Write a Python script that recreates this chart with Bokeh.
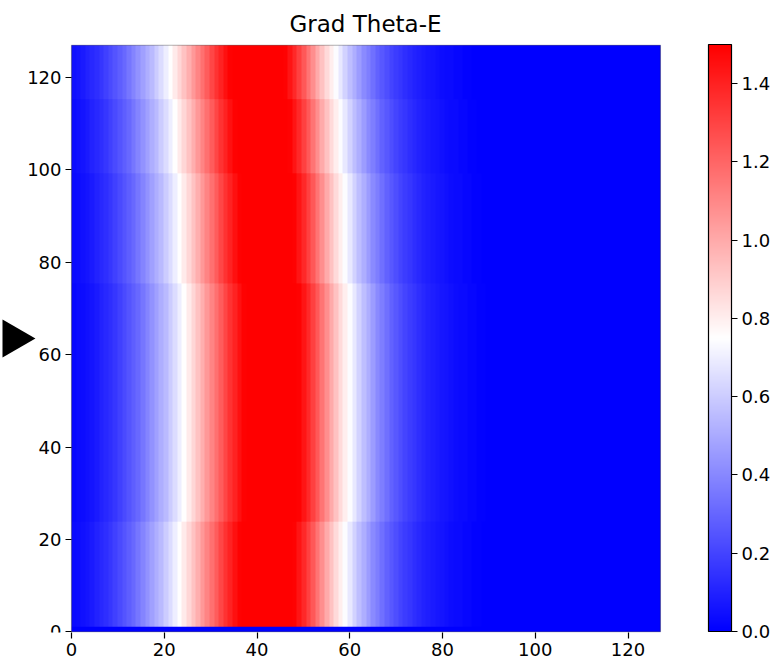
import numpy as np
from bokeh.plotting import figure
from bokeh.models import (LinearColorMapper, ColorBar, FixedTicker, PrintfTickFormatter,
                          Range1d, BoxAnnotation)
from bokeh.embed import file_html
from bokeh.resources import INLINE

# ---- data ----
title_text = "Grad Theta-E"
n_cols = 128
n_rows = 128
# field value along x (columns 0..127) for the middle rows
profile = [
    0.02, 0.03, 0.04, 0.05, 0.06, 0.08, 0.10, 0.12, 0.14, 0.16,
    0.19, 0.22, 0.25, 0.28, 0.31, 0.35, 0.39, 0.43, 0.47, 0.51,
    0.55, 0.60, 0.65, 0.70, 0.75, 0.81, 0.87, 0.93, 0.99, 1.05,
    1.11, 1.17, 1.23, 1.29, 1.35, 1.40, 1.45, 1.49, 1.53, 1.57,
    1.60, 1.62, 1.63, 1.63, 1.62, 1.60, 1.58, 1.55, 1.52, 1.49,
    1.44, 1.38, 1.31, 1.24, 1.16, 1.08, 1.00, 0.93, 0.86, 0.80,
    0.74, 0.68, 0.62, 0.56, 0.51, 0.46, 0.41, 0.37, 0.33, 0.29,
    0.26, 0.23, 0.20, 0.18, 0.16, 0.14, 0.12, 0.10, 0.09, 0.08,
    0.07, 0.06, 0.05, 0.04, 0.03, 0.03, 0.02, 0.02, 0.01, 0.01,
    0.0, 0.0, 0.0, 0.0, 0.0, 0.0, 0.0, 0.0, 0.0, 0.0,
    0.0, 0.0, 0.0, 0.0, 0.0, 0.0, 0.0, 0.0, 0.0, 0.0,
    0.0, 0.0, 0.0, 0.0, 0.0, 0.0, 0.0, 0.0, 0.0, 0.0,
    0.0, 0.0, 0.0, 0.0, 0.0, 0.0, 0.0, 0.0,
]
# x-shift (columns) of the band for each block of 4 rows, bottom to top
band_shift = [-1, -1, -1, -1, -1, -1,
              0, 0, 0, 0, 0, 0, 0, 0, 0, 0, 0, 0, 0,
              -1, -1, -1, -1, -1, -1,
              -2, -2, -2, -2,
              -3, -3, -3]
rows_per_band = 4
bottom_row_value = 0.0
vmin, vmax = 0.0, 1.5
axis_ticks = [0, 20, 40, 60, 80, 100, 120]
cbar_ticks = [0.0, 0.2, 0.4, 0.6, 0.8, 1.0, 1.2, 1.4]
marker_y = 63.5    # data row pointed at by the black arrow

# ---- build field ----
prof = np.array(profile)
grid = np.zeros((n_rows, n_cols))
for r in range(n_rows):
    s = band_shift[r // rows_per_band]
    if s < 0:
        row = np.concatenate([prof[-s:], np.full(-s, prof[-1])])
    elif s > 0:
        row = np.concatenate([np.full(s, prof[0]), prof[:-s]])
    else:
        row = prof.copy()
    grid[r] = row
grid[0, :] = bottom_row_value

# matplotlib-like bwr colormap
def bwr(n=256):
    out = []
    for i in range(n):
        t = i / (n - 1)
        if t < 0.5:
            r = g = 2 * t
            b = 1.0
        else:
            r = 1.0
            g = b = 2 * (1 - t)
        out.append("#%02x%02x%02x" % (round(r * 255), round(g * 255), round(b * 255)))
    return out

mapper = LinearColorMapper(palette=bwr(), low=vmin, high=vmax)

# ---- layout (pixels) ----
FONT = "DejaVu Sans"
W, H = 774, 664
AXL = 71            # page x of data x = 0 (the visible left edge of the image box)
FR_R = 661          # page x where the plotting frame ends
BT, BB = 44, 32
xmax = n_cols - 1
ymax = n_rows - 1
pxu = (660 - AXL) / xmax                     # px per data unit along x
x_start = -AXL / pxu                         # frame starts at the page edge
x_end = (FR_R - AXL) / pxu
ypad = 0.15

p = figure(width=W, height=H,
           x_range=Range1d(x_start, x_end), y_range=Range1d(-ypad, ymax + ypad),
           output_backend="svg", toolbar_location=None,
           min_border_left=0, min_border_right=W - FR_R, min_border_top=BT, min_border_bottom=BB,
           title=title_text)
p.image(image=[grid], x=0, y=0, dw=xmax, dh=ymax, color_mapper=mapper)

p.grid.visible = False
p.outline_line_color = None
p.background_fill_color = "white"
p.border_fill_color = "white"

# the axes box around the image
p.add_layout(BoxAnnotation(left=0, right=xmax, bottom=0, top=ymax,
                           fill_color=None, line_color="black", line_width=1.2))

for ax in (p.xaxis[0], p.yaxis[0]):
    ax.ticker = FixedTicker(ticks=axis_ticks)
    ax.axis_line_color = None
    ax.major_tick_out = 6
    ax.major_tick_in = 0
    ax.minor_tick_out = 0
    ax.minor_tick_in = 0
    ax.major_tick_line_color = "black"
    ax.major_tick_line_width = 1.2
    ax.major_label_text_font = FONT
    ax.major_label_text_font_size = "18px"
    ax.major_label_text_color = "black"
    ax.major_label_standoff = 4
p.yaxis[0].fixed_location = 0

p.title.text_font = FONT
p.title.text_font_size = "23px"
p.title.text_font_style = "normal"
p.title.align = "left"
p.title.offset = 289
p.title.text_color = "black"
p.title.standoff = 15

cb = ColorBar(color_mapper=mapper, ticker=FixedTicker(ticks=cbar_ticks),
              formatter=PrintfTickFormatter(format="%.1f"),
              width=23, height=587, padding=0, margin=0, location=(47, 1),
              major_tick_in=0, major_tick_out=6, major_tick_line_color="black",
              major_tick_line_width=1.2,
              bar_line_color="black", bar_line_width=1.2, label_standoff=4,
              major_label_text_font=FONT, major_label_text_font_size="18px",
              major_label_text_color="black",
              background_fill_color=None, border_line_color=None)
p.add_layout(cb, "right")

# black arrow marker left of the y axis
marker_px = 13
p.scatter(x=[x_start + marker_px / pxu], y=[marker_y], marker="triangle", size=38,
          angle=-np.pi / 2, fill_color="black", line_color=None)

open("out.html", "w").write(file_html(p, INLINE))
